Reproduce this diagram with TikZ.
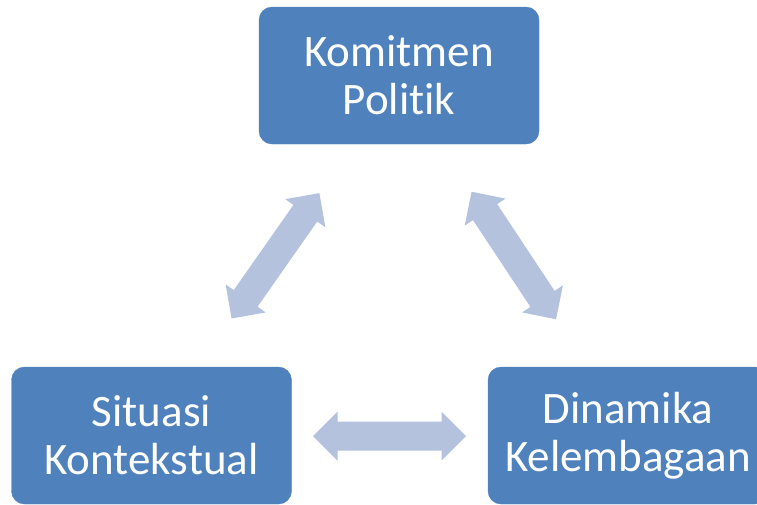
\documentclass[tikz,border=0pt]{standalone}
\usepackage{fontspec}
\setmainfont[Ligatures={NoCommon,NoContextual}]{Carlito}
\definecolor{boxblue}{HTML}{4F81BD}
\definecolor{arrowblue}{RGB}{180,194,222}
\tikzset{
  x=1pt, y=-1pt,
  topic/.style={rectangle, rounded corners=13pt, fill=boxblue, draw=boxblue,
    minimum width=280pt, minimum height=137pt, inner sep=0pt,
    text=white, align=center, font=\fontsize{45}{48}\selectfont},
  % two-headed block arrow centred at the pic origin, lying along x
  blockarrow/.pic={
    \fill[arrowblue] (-76.5,0) -- (-52,-24.5) -- (-52,-14.5) -- (52,-14.5)
      -- (52,-24.5) -- (76.5,0) -- (52,24.5) -- (52,14.5) -- (-52,14.5)
      -- (-52,24.5) -- cycle;
  }
}
\begin{document}
\begin{tikzpicture}
  \useasboundingbox (0,0) rectangle (757,504);
  \clip (0,0) rectangle (757,504);

  \node[topic] (politik) at (399,75.5) {Komitmen\\Politik};
  \node[topic] (situasi) at (151.5,435.5) {Situasi\\Kontekstual};
  \node[topic] (dinamika) at (628,435.5) {Dinamika\\Kelembagaan};

  \pic[rotate=55] at (275.5,255.8) {blockarrow};
  \pic[rotate=-56.5] at (513.8,255.5) {blockarrow};
  \pic at (389.5,436) {blockarrow};
\end{tikzpicture}
\end{document}
